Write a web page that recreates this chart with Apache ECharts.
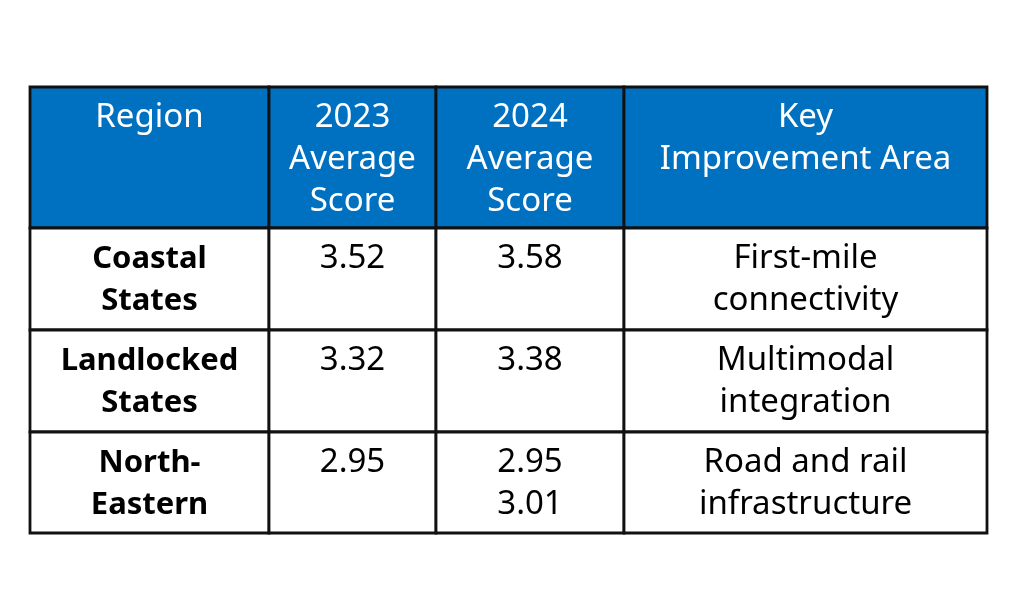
<!DOCTYPE html>
<html>
<head>
<meta charset="utf-8">
<script src="https://cdn.jsdelivr.net/npm/echarts@6/dist/echarts.min.js"></script>
<style>html,body{margin:0;padding:0;background:#fff}#c{width:1024px;height:600px}</style>
</head>
<body>
<div id="c"></div>
<script>
// Data
var headers = ['Region', '2023\nAverage\nScore', '2024\nAverage\nScore', 'Key\nImprovement Area'];
var regions = ['Coastal\nStates', 'Landlocked\nStates', 'North-\nEastern'];
var score2023 = ['3.52', '3.32', '2.95'];
var score2024 = ['3.58', '3.38', '2.95\n3.01'];
var improvement = ['First-mile\nconnectivity', 'Multimodal\nintegration', 'Road and rail\ninfrastructure'];

// Layout (relative units)
var colWidths = [239, 167, 188, 363];
var rowHeights = [141, 102, 102, 101];

var colEdges = [0];
colWidths.forEach(function (w) { colEdges.push(colEdges[colEdges.length - 1] + w); });
var rowEdges = [0];
rowHeights.forEach(function (h) { rowEdges.push(rowEdges[rowEdges.length - 1] + h); });

var cells = [];
function addCell(c, r, text, kind) {
  cells.push([colEdges[c], colEdges[c + 1], rowEdges[r], rowEdges[r + 1], text, kind]);
}
headers.forEach(function (h, c) { addCell(c, 0, h, 'header'); });
for (var i = 0; i < regions.length; i++) {
  addCell(0, i + 1, regions[i], 'bold');
  addCell(1, i + 1, score2023[i], 'body');
  addCell(2, i + 1, score2024[i], 'body');
  addCell(3, i + 1, improvement[i], 'body');
}

var FONT = '"Noto Sans", "Open Sans", sans-serif';
var chart = echarts.init(document.getElementById('c'));
chart.setOption({
  animation: false,
  grid: { left: 30, right: 37, top: 87, bottom: 67 },
  xAxis: { type: 'value', min: 0, max: colEdges[colEdges.length - 1], show: false },
  yAxis: { type: 'value', min: 0, max: rowEdges[rowEdges.length - 1], inverse: true, show: false },
  series: [{
    type: 'custom',
    coordinateSystem: 'cartesian2d',
    data: cells,
    encode: { x: [0, 1], y: [2, 3] },
    renderItem: function (params, api) {
      var p0 = api.coord([api.value(0), api.value(2)]);
      var p1 = api.coord([api.value(1), api.value(3)]);
      var d = cells[params.dataIndex];
      var kind = d[5];
      var isHeader = kind === 'header';
      return {
        type: 'group',
        children: [{
          type: 'rect',
          shape: { x: p0[0], y: p0[1], width: p1[0] - p0[0], height: p1[1] - p0[1] },
          style: { fill: isHeader ? '#0070C0' : '#ffffff', stroke: '#111111', lineWidth: 2.8 }
        }, {
          type: 'text',
          x: (p0[0] + p1[0]) / 2,
          y: p0[1] + 10,
          style: {
            text: d[4],
            align: 'center',
            verticalAlign: 'top',
            fill: isHeader ? '#ffffff' : '#000000',
            font: kind === 'bold' ? 'bold 31px ' + FONT : '33px ' + FONT,
            lineHeight: 42
          }
        }]
      };
    }
  }]
});
</script>
</body>
</html>
